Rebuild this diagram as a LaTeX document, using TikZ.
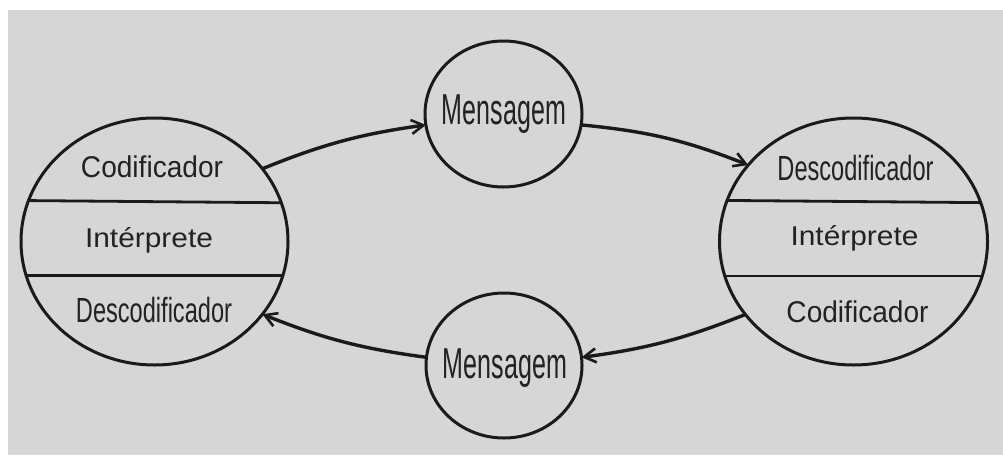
\documentclass[tikz,border=0pt]{standalone}
\usepackage{fontspec}
\setmainfont{Liberation Sans}
\usetikzlibrary{shapes.geometric,arrows.meta}
\definecolor{bg}{HTML}{D6D6D6}
\definecolor{ink}{HTML}{1A1A1A}
\definecolor{txt}{HTML}{222222}
\newcommand\wMsg{\scalebox{2.507}[4.33]{Mensagem}}
\newcommand\wCod{\scalebox{2.808}[3.0]{Codificador}}
\newcommand\wDes{\scalebox{2.359}[3.49]{Descodificador}}
\newcommand\wInt{\scalebox{2.99}[2.72]{Intérprete}}
\begin{document}
\begin{tikzpicture}[x=1pt,y=-1pt,
  ring/.style={draw=ink,line width=3pt,ellipse,inner sep=0pt,outer sep=0pt},
  lbl/.style={anchor=base,inner sep=0pt,text=txt,font=\fontsize{10}{12}\selectfont},
  sep/.style={draw=ink,line width=2.8pt},
  flow/.style={draw=ink,line width=3.4pt,-{Straight Barb[length=12pt,width=14pt,line width=2.6pt]}}]
\useasboundingbox (0,0) rectangle (1003,455);
\fill[white] (0,0) rectangle (1003,455);
\fill[bg] (8,10) rectangle (1003,455);

% big ellipses
\node[ring,minimum width=267pt,minimum height=247pt] (L) at (154.5,241.5) {};
\node[ring,minimum width=268pt,minimum height=247pt] (R) at (853.5,241.5) {};
% message circles
\node[ring,minimum width=157pt,minimum height=146pt] (TM) at (503.5,114) {};
\node[ring,minimum width=156pt,minimum height=145pt] (BM) at (504,365.5) {};

% dividers
\draw[sep] (L.162.2) -- (L.17.8);
\draw[sep] (L.195.74) -- (L.-15.74);
\draw[sep] (R.162.66) -- (R.17.34);
\draw[sep] (R.195.97) -- (R.-15.97);

% labels
\node[lbl] (lcod) at (152,177) {\wCod};
\node[lbl] (lint) at (149,247) {\wInt};
\node[lbl] (ldes) at (154,322) {\wDes};
\node[lbl] (rdes) at (855.5,180) {\wDes};
\node[lbl] (rint) at (854.5,245) {\wInt};
\node[lbl] (rcod) at (857.5,322) {\wCod};
\node[lbl] (tmsg) at (504,124) {\wMsg};
\node[lbl] (bmsg) at (505,378) {\wMsg};

% connectors
\draw[flow] (L.34.5) to[bend left=7] (TM.188);
\draw[flow] (TM.-8) to[bend left=8] (R.144.6);
\draw[flow] (R.214.9) to[bend left=7] (BM.6);
\draw[flow] (BM.174) to[bend left=7] (L.-34.5);
\end{tikzpicture}
\end{document}
